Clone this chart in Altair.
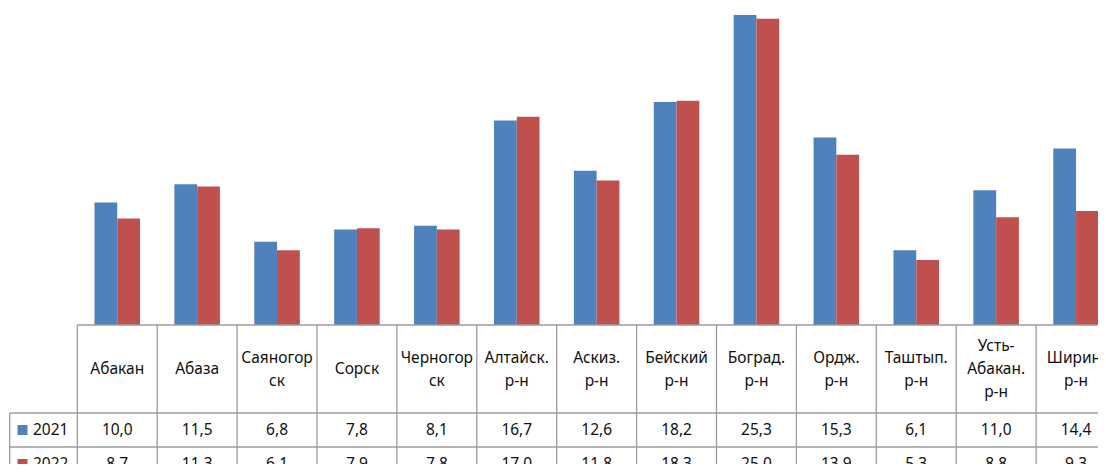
import altair as alt
import pandas as pd

# ---- data ----
categories = ["Абакан", "Абаза", "Саяногор\nск", "Сорск", "Черногор\nск",
              "Алтайск.\nр-н", "Аскиз.\nр-н", "Бейский\nр-н", "Боград.\nр-н",
              "Ордж.\nр-н", "Таштып.\nр-н", "Усть-\nАбакан.\nр-н", "Ширин.\nр-н"]
values_2021 = [10.0, 11.5, 6.8, 7.8, 8.1, 16.7, 12.6, 18.2, 25.3, 15.3, 6.1, 11.0, 14.4]
values_2022 = [8.7, 11.3, 6.1, 7.9, 7.8, 17.0, 11.8, 18.3, 25.0, 13.9, 5.3, 8.8, 9.3]
series = ["2021", "2022"]
colors = ["#4F81BD", "#C0504D"]

# ---- layout (pixels) ----
W, H = 1090, 456          # whole chart
TOP_H = 317               # bar area height (baseline)
CAT = 79.9                # one category column width
LEFT = 69.3               # width of the row-label column
HEAD_H, ROW_H = 88, 34    # table header / row heights
LINE_H = 23
PX_PER_UNIT = 12.25
LEFT_BORDER = (1.7 - LEFT) / CAT
X_DOM = [-LEFT / CAT, (W - LEFT) / CAT]
FONT = "Noto Sans"
FS = 15.5
GRID = "#9C9C9C"
TXT = "#111111"

n = len(categories)
long = pd.DataFrame(
    [{"idx": i, "series": s, "s": k, "value": v}
     for k, (s, vals) in enumerate(zip(series, [values_2021, values_2022]))
     for i, v in enumerate(vals)]
)
cats = pd.DataFrame({"idx": range(n), "label": categories})
legend_df = pd.DataFrame({"series": series, "s": [0, 1]})

xs = alt.Scale(domain=X_DOM, nice=False, zero=False)
ys_bar = alt.Scale(domain=[-(H - TOP_H) / PX_PER_UNIT, TOP_H / PX_PER_UNIT], nice=False, zero=False)
ys_tab = alt.Scale(domain=[0, H], reverse=True, nice=False, zero=False)
color = alt.Color("series:N", scale=alt.Scale(domain=series, range=colors), legend=None)

bars = alt.Chart(long).transform_calculate(
    x0="datum.idx + 0.215 + 0.285 * datum.s",
    x1="datum.idx + 0.5 + 0.285 * datum.s",
).mark_bar(clip=True).encode(
    x=alt.X("x0:Q", scale=xs, axis=None),
    x2="x1:Q",
    y=alt.Y("value:Q", scale=ys_bar, axis=None),
    y2=alt.datum(0),
    color=color,
)

# grid lines of the data table
rows = []
rows.append({"x": 0, "x2": X_DOM[1], "ty": TOP_H, "ty2": TOP_H})
for r in (1, 2):
    yy = TOP_H + HEAD_H + ROW_H * (r - 1)
    rows.append({"x": LEFT_BORDER, "x2": X_DOM[1], "ty": yy, "ty2": yy})
for i in range(n):
    rows.append({"x": i, "x2": i, "ty": TOP_H, "ty2": H})
rows.append({"x": LEFT_BORDER, "x2": LEFT_BORDER, "ty": TOP_H + HEAD_H, "ty2": H})
rules_df = pd.DataFrame(rows)

rules = alt.Chart(rules_df).mark_rule(color=GRID, strokeWidth=1.3, clip=True).encode(
    x=alt.X("x:Q", scale=xs, axis=None), x2="x2:Q",
    y=alt.Y("ty:Q", scale=ys_tab, axis=None), y2="ty2:Q",
)

header = alt.Chart(cats).transform_calculate(
    xc="datum.idx + 0.5",
    ty=f"{TOP_H + HEAD_H / 2} - (length(split(datum.label, '\\n')) - 1) * {LINE_H / 2}",
).mark_text(
    font=FONT, fontSize=FS, lineBreak="\n", lineHeight=LINE_H,
    align="center", baseline="middle", color=TXT, clip=True,
).encode(
    x=alt.X("xc:Q", scale=xs, axis=None),
    y=alt.Y("ty:Q", scale=ys_tab, axis=None),
    text="label:N",
)

vals = alt.Chart(long).transform_calculate(
    xc="datum.idx + 0.5",
    ty=f"{TOP_H + HEAD_H} + {ROW_H} * datum.s + {ROW_H / 2}",
    txt="replace(format(datum.value, '.1f'), '.', ',')",
).mark_text(
    font=FONT, fontSize=FS, align="center", baseline="middle", color=TXT, clip=True,
).encode(
    x=alt.X("xc:Q", scale=xs, axis=None),
    y=alt.Y("ty:Q", scale=ys_tab, axis=None),
    text="txt:N",
)

leg_sq = alt.Chart(legend_df).transform_calculate(
    xc=str((14.5 - LEFT) / CAT),
    ty=f"{TOP_H + HEAD_H} + {ROW_H} * datum.s + {ROW_H / 2}",
).mark_square(size=100, opacity=1, clip=True).encode(
    x=alt.X("xc:Q", scale=xs, axis=None),
    y=alt.Y("ty:Q", scale=ys_tab, axis=None),
    color=color,
)

leg_txt = alt.Chart(legend_df).transform_calculate(
    xc=str((25 - LEFT) / CAT),
    ty=f"{TOP_H + HEAD_H} + {ROW_H} * datum.s + {ROW_H / 2}",
).mark_text(
    font=FONT, fontSize=FS, align="left", baseline="middle", color=TXT, clip=True,
).encode(
    x=alt.X("xc:Q", scale=xs, axis=None),
    y=alt.Y("ty:Q", scale=ys_tab, axis=None),
    text="series:N",
)

table = alt.layer(rules, header, vals, leg_sq, leg_txt)

chart = alt.layer(bars, table).resolve_scale(y="independent").properties(
    width=W, height=H, padding=0,
    autosize=alt.AutoSizeParams(type="fit", contains="padding"),
).configure_view(stroke=None)

chart.save("out.html", embed_options={"renderer": "svg", "actions": False})
